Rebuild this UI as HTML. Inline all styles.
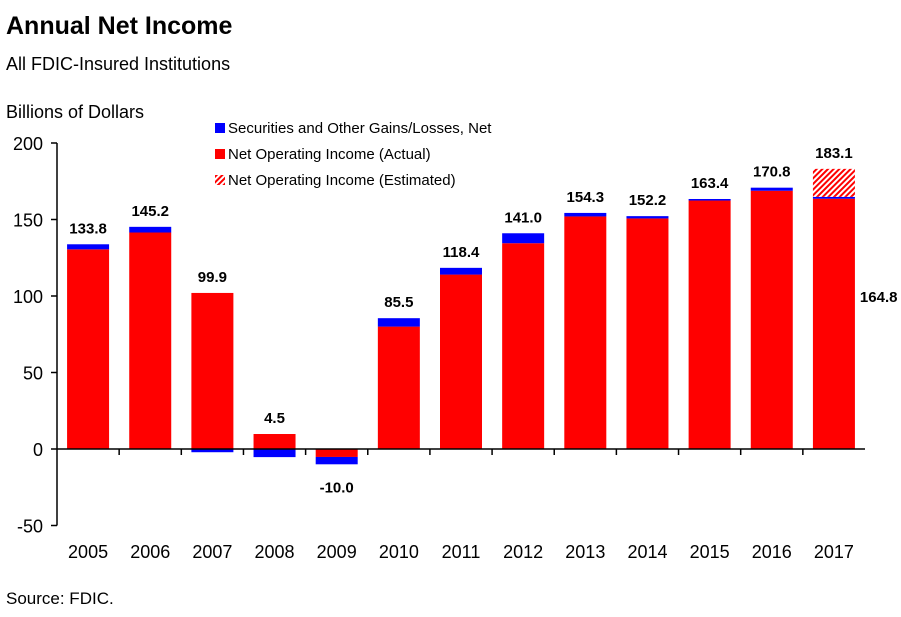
<!DOCTYPE html>
<html><head><meta charset="utf-8"><style>
body{margin:0;background:#fff;font-family:"Liberation Sans",Arial,sans-serif}
</style></head><body>
<svg width="901" height="612" xmlns="http://www.w3.org/2000/svg" font-family="Liberation Sans, Arial, sans-serif">
<defs><pattern id="hatch" width="4" height="4" patternUnits="userSpaceOnUse" patternTransform="rotate(45)"><rect width="4" height="4" fill="#fff"/><rect width="2" height="4" fill="#f00"/></pattern></defs>
<text x="6" y="34" font-size="25" font-weight="bold">Annual Net Income</text>
<text x="6" y="70" font-size="18">All FDIC-Insured Institutions</text>
<text x="6" y="118" font-size="18">Billions  of Dollars</text>
<text x="6" y="604" font-size="17">Source: FDIC.</text>
<g>
<rect x="215" y="123" width="10" height="10" fill="#00f"/>
<text x="228" y="133" font-size="15">Securities and Other Gains/Losses, Net</text>
<rect x="215" y="149" width="10" height="10" fill="#f00"/>
<text x="228" y="159" font-size="15">Net Operating Income (Actual)</text>
<rect x="215" y="175" width="10" height="10" fill="url(#hatch)"/>
<text x="228" y="185" font-size="15">Net Operating Income (Estimated)</text>
</g>
<g id="plot"></g>
</svg>
<script>
const years=["2005","2006","2007","2008","2009","2010","2011","2012","2013","2014","2015","2016","2017"];
const operating=[130.5,141.5,102,9.8,-5.2,80,114,134.5,152,150.7,162.4,168.8,163.6];
const securities=[3.3,3.7,-2.1,-5.3,-4.8,5.5,4.4,6.5,2.3,1.5,1.0,2.0,1.2];
const estimated=[0,0,0,0,0,0,0,0,0,0,0,0,18.3];
const totals=["133.8","145.2","99.9","4.5","-10.0","85.5","118.4","141.0","154.3","152.2","163.4","170.8","183.1"];
const yTicks=[-50,0,50,100,150,200];
const NS="http://www.w3.org/2000/svg";
const g=document.getElementById('plot');
const X0=57,X1=865,Y0=449,PX=1.53;
const cw=(X1-X0)/years.length,bw=42;
const y=v=>Y0-v*PX;
const xc=i=>X0+cw*(i+0.5);
function mk(t,a){const e=document.createElementNS(NS,t);for(const k in a)e.setAttribute(k,a[k]);g.appendChild(e);return e;}
function rect(x,v0,v1,fill){const a=y(Math.max(v0,v1)),b=y(Math.min(v0,v1));return mk('rect',{x:x,y:a,width:bw,height:b-a,fill:fill});}
let e;
e=mk('line',{x1:X0,y1:y(-50),x2:X0,y2:y(200),stroke:'#000','stroke-width':1.5});


yTicks.forEach(t=>{
 e=mk('line',{x1:X0-6,x2:X0,y1:y(t),y2:y(t),stroke:'#000','stroke-width':1.5});
 
 
 e=mk('text',{x:X0-14,y:y(t)+7,'font-size':18,'text-anchor':'end'});e.textContent=t;
 
 
});
years.forEach((yr,i)=>{
 const x=xc(i)-bw/2,op=operating[i],s=securities[i];
 e=rect(x,0,op,'#f00');
 
 
 let base=(s>=0)?Math.max(op,0):Math.min(op,0);
 e=rect(x,base,base+s,'#00f');
 
 
 let top=Math.max(base+s,op,0);
 if(estimated[i]>0){
  e=rect(x,top,top+estimated[i],'url(#hatch)');
  
  
  top+=estimated[i];
  const act=(op+s).toFixed(1);
  e=mk('text',{x:xc(i)+bw/2+5,y:y(op+s)+105,'font-size':15,'font-weight':'bold'});e.textContent=act;
  
  
 }
 const bottom=Math.min(base+s,op,0);
 const neg=parseFloat(totals[i])<0;
 e=mk('text',{x:xc(i),y:neg?y(bottom)+28:y(top)-11,'font-size':15,'font-weight':'bold','text-anchor':'middle'});e.textContent=totals[i];
 
 
 e=mk('text',{x:xc(i),y:558,'font-size':18,'text-anchor':'middle'});e.textContent=yr;
 
 
 if(i>0){e=mk('line',{x1:X0+cw*i,x2:X0+cw*i,y1:Y0,y2:Y0+6,stroke:'#000','stroke-width':1.5});
 
 }
});
e=mk('line',{x1:X0,x2:X1,y1:Y0,y2:Y0,stroke:'#000','stroke-width':1.5});


</script>
</body></html>
